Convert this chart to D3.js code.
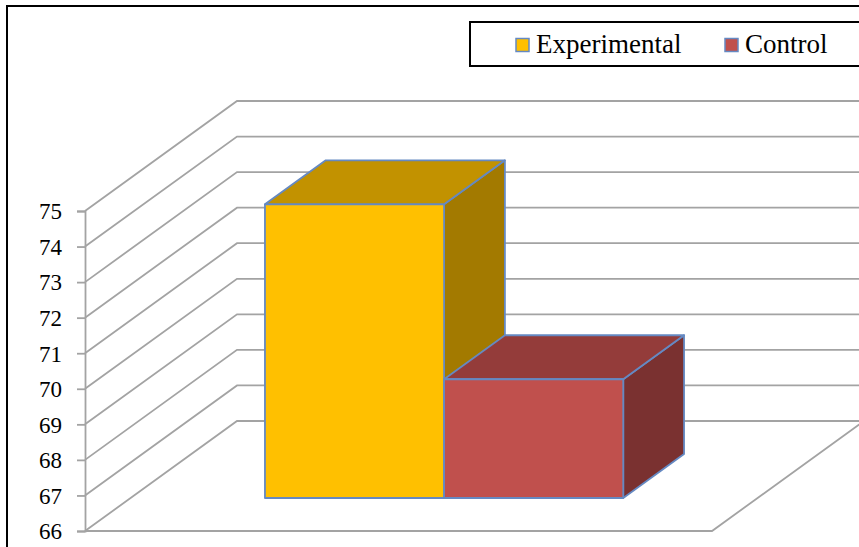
<!DOCTYPE html>
<html>
<head>
<meta charset="utf-8">
<script src="https://cdn.jsdelivr.net/npm/d3@7/dist/d3.min.js"></script>
<style>
  html, body { margin: 0; padding: 0; background: #fff; }
  svg { display: block; }
  svg text { font-family: 'Liberation Serif', 'Times New Roman', Tinos, 'DejaVu Serif', serif; fill: #000; }
</style>
</head>
<body>
<svg id="chart" width="859" height="547"></svg>
<script>
// Chart data
const categories = ["Group"];
const seriesNames = ["Experimental", "Control"];
const seriesValues = [74.26, 69.34];
const yTicks = [66, 67, 68, 69, 70, 71, 72, 73, 74, 75];

// Face colours per series: front, top, side
const faceColors = {
  Experimental: { front: "#FFC000", top: "#C29200", side: "#A37A00" },
  Control:      { front: "#C0504D", top: "#943C3A", side: "#7A3130" }
};

(function () {
  const svg = d3.select("#chart");
  const W = 859, H = 547;
  const serif = "'Liberation Serif', 'Times New Roman', Tinos, 'DejaVu Serif', serif";

  // Plot geometry (front plane) and oblique depth offset
  const plotL = 85, plotR = 712, plotB = 531, plotT = 211;
  const depthDX = 152, depthDY = 110;

  const y = d3.scaleLinear().domain([66, 75]).range([plotB, plotT]);
  const xCat = d3.scaleBand().domain(categories).range([plotL, plotR]).padding(0);
  const xSeries = d3.scaleBand().domain(seriesNames)
    .range([0, xCat.bandwidth()]).paddingInner(0).paddingOuter(0.75);
  const depth = d3.scaleLinear().domain([0, 1]).range([0, 1]);

  // Oblique projection: depth d in [0,1] shifts up-right
  const P = (x, yy, d) => [x + depth(d) * depthDX, yy - depth(d) * depthDY];

  const grid = svg.append("g").attr("class", "grid");
  const gridColor = "#A3A3A3";

  // Back wall gridlines, each with its side-wall diagonal
  yTicks.forEach(t => {
    const a = P(plotL, y(t), 0), b = P(plotL, y(t), 1), c = P(plotR, y(t), 1);
    grid.append("path")
      .attr("d", `M${a}L${b}L${c[0] + 20},${c[1]}`)
      .attr("fill", "none").attr("stroke", gridColor).attr("stroke-width", 1.8);
  });

  // Floor front edge and right diagonal
  {
    const a = P(plotL, y(66), 0), b = P(plotR, y(66), 0), c = P(plotR, y(66), 1);
    grid.append("path")
      .attr("d", `M${a}L${b}L${c}`)
      .attr("fill", "none").attr("stroke", gridColor).attr("stroke-width", 1.8);
  }

  // Front value axis
  const axis = svg.append("g")
    .attr("transform", `translate(${plotL},0)`)
    .call(d3.axisLeft(y).tickValues(yTicks).tickSize(8).tickPadding(15).tickFormat(d3.format("d")));
  axis.attr("font-family", null);
  axis.select(".domain").attr("stroke", gridColor).attr("stroke-width", 1.8);
  axis.selectAll(".tick line").attr("stroke", gridColor).attr("stroke-width", 1.8);
  axis.selectAll(".tick text")
    .style("font-family", serif)
    .attr("font-size", 23).attr("fill", "#000").attr("dy", "0.34em");

  // Bars as 3D boxes
  const d0 = 0.3, d1 = 0.7;
  const bars = svg.append("g").attr("class", "bars");
  const edge = "#6589C2";
  const poly = pts => "M" + pts.map(p => p.join(",")).join("L") + "Z";
  seriesNames.forEach((name, i) => {
    const v = seriesValues[i];
    const x0 = xCat(categories[0]) + xSeries(name);
    const x1 = x0 + xSeries.bandwidth();
    const yb = y(66), yt = y(v);
    const c = faceColors[name];
    const g = bars.append("g");
    // side face
    g.append("path").attr("d", poly([P(x1, yb, d0), P(x1, yb, d1), P(x1, yt, d1), P(x1, yt, d0)]))
      .attr("fill", c.side).attr("stroke", edge).attr("stroke-width", 1.8).attr("stroke-linejoin", "round");
    // top face
    g.append("path").attr("d", poly([P(x0, yt, d0), P(x1, yt, d0), P(x1, yt, d1), P(x0, yt, d1)]))
      .attr("fill", c.top).attr("stroke", edge).attr("stroke-width", 1.8).attr("stroke-linejoin", "round");
    // front face
    g.append("path").attr("d", poly([P(x0, yb, d0), P(x1, yb, d0), P(x1, yt, d0), P(x0, yt, d0)]))
      .attr("fill", c.front).attr("stroke", edge).attr("stroke-width", 1.8).attr("stroke-linejoin", "round");
  });

  // Legend
  const legend = svg.append("g");
  legend.append("rect").attr("x", 470).attr("y", 22).attr("width", 420).attr("height", 44)
    .attr("fill", "#fff").attr("stroke", "#000").attr("stroke-width", 2);
  const legendX = [516, 725];
  seriesNames.forEach((name, i) => {
    legend.append("rect").attr("x", legendX[i]).attr("y", 38.5).attr("width", 13).attr("height", 13)
      .attr("fill", faceColors[name].front).attr("stroke", edge).attr("stroke-width", 1.5);
    legend.append("text").attr("x", legendX[i] + 20).attr("y", 53)
      .style("font-family", serif)
      .attr("font-size", 27).text(name);
  });

  // Outer chart frame
  svg.append("path").attr("d", `M7,${H + 5}L7,6L${W + 5},6`)
    .attr("fill", "none").attr("stroke", "#000").attr("stroke-width", 2);
})();
</script>
</body>
</html>
